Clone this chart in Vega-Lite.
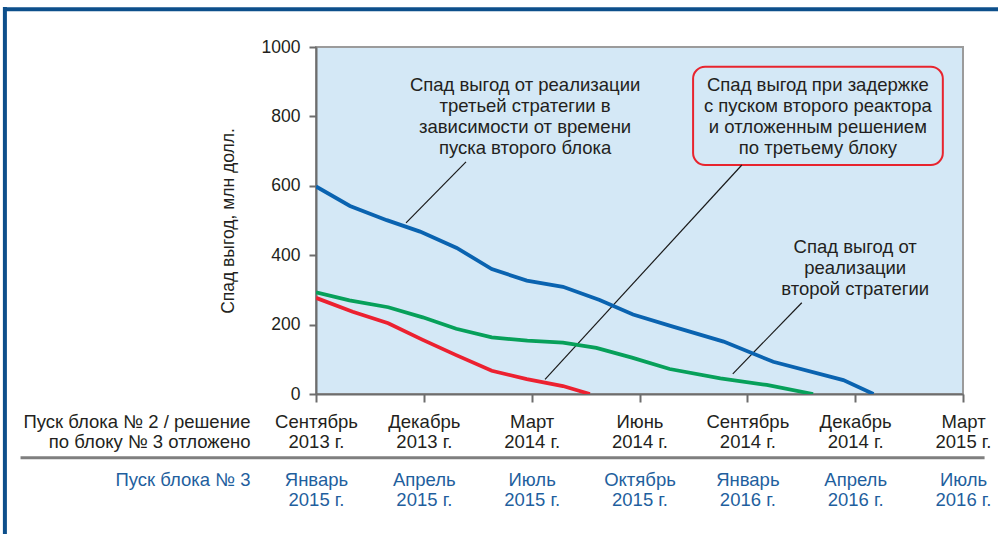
{
  "$schema": "https://vega.github.io/schema/vega-lite/v6.json",
  "autosize": {"type": "none"},
  "padding": {"left": 316, "top": 47, "right": 35, "bottom": 140},
  "width": 647,
  "height": 347,
  "background": "white",
  "config": {
    "view": {"fill": "#d4e8f6", "stroke": "#9b9b9b", "strokeWidth": 2},
    "font": "Liberation Sans",
    "axis": {"labelFont": "Liberation Sans", "titleFont": "Liberation Sans", "grid": false}
  },
  "datasets": {
    "one": [{"k": 1}],
    "lines": [
      {"series": "blue", "q": 0, "v": 598},
      {"series": "blue", "q": 0.315, "v": 542},
      {"series": "blue", "q": 0.656, "v": 501},
      {"series": "blue", "q": 0.965, "v": 468},
      {"series": "blue", "q": 1.305, "v": 421},
      {"series": "blue", "q": 1.63, "v": 360},
      {"series": "blue", "q": 1.955, "v": 327},
      {"series": "blue", "q": 2.29, "v": 309},
      {"series": "blue", "q": 2.63, "v": 271},
      {"series": "blue", "q": 2.94, "v": 229},
      {"series": "blue", "q": 3.31, "v": 194},
      {"series": "blue", "q": 3.78, "v": 151},
      {"series": "blue", "q": 4.24, "v": 93},
      {"series": "blue", "q": 4.89, "v": 40},
      {"series": "blue", "q": 5.17, "v": 0},
      {"series": "green", "q": 0, "v": 293},
      {"series": "green", "q": 0.31, "v": 270},
      {"series": "green", "q": 0.67, "v": 250},
      {"series": "green", "q": 0.99, "v": 221},
      {"series": "green", "q": 1.3, "v": 188},
      {"series": "green", "q": 1.63, "v": 163},
      {"series": "green", "q": 1.96, "v": 154},
      {"series": "green", "q": 2.29, "v": 148},
      {"series": "green", "q": 2.6, "v": 133},
      {"series": "green", "q": 2.93, "v": 105},
      {"series": "green", "q": 3.28, "v": 72},
      {"series": "green", "q": 3.75, "v": 45},
      {"series": "green", "q": 4.18, "v": 26},
      {"series": "green", "q": 4.61, "v": 0},
      {"series": "red", "q": 0, "v": 277},
      {"series": "red", "q": 0.34, "v": 237},
      {"series": "red", "q": 0.67, "v": 204},
      {"series": "red", "q": 0.99, "v": 156},
      {"series": "red", "q": 1.3, "v": 112},
      {"series": "red", "q": 1.63, "v": 67},
      {"series": "red", "q": 1.955, "v": 43},
      {"series": "red", "q": 2.29, "v": 23},
      {"series": "red", "q": 2.54, "v": 0}
    ],
    "leaders": [
      {"id": "a", "x1": 1.391, "y1": 669, "x2": 0.835, "y2": 493},
      {"id": "b", "x1": 3.949, "y1": 660, "x2": 2.124, "y2": 42},
      {"id": "c", "x1": 4.505, "y1": 263, "x2": 3.865, "y2": 58}
    ]
  },
  "resolve": {"scale": {"x": "independent"}, "axis": {"x": "independent"}},
  "layer": [
    {
      "layer": [
        {
          "data": {"name": "one"},
          "mark": {"type": "rule", "color": "#0d4f8b", "strokeWidth": 4, "clip": false},
          "encoding": {
            "x": {"datum": -2.9, "type": "quantitative"},
            "x2": {"datum": 6.33},
            "y": {"datum": 1109, "type": "quantitative"}
          }
        },
        {
          "data": {"name": "one"},
          "mark": {"type": "rule", "color": "#0d4f8b", "strokeWidth": 4, "clip": false},
          "encoding": {
            "x": {"datum": -2.885, "type": "quantitative"},
            "y": {"datum": 1115, "type": "quantitative"},
            "y2": {"datum": -410}
          }
        },
        {
          "data": {"name": "one"},
          "mark": {"type": "rect", "cornerRadius": 12, "fill": "#d4e8f6", "stroke": "#e8242e", "strokeWidth": 2},
          "encoding": {
            "x": {"datum": 3.497, "type": "quantitative"},
            "x2": {"datum": 5.813},
            "y": {"datum": 943, "type": "quantitative"},
            "y2": {"datum": 660}
          }
        },
        {
          "data": {"name": "leaders"},
          "mark": {"type": "rule", "color": "#1a1a1a", "strokeWidth": 1.2},
          "encoding": {
            "x": {"field": "x1", "type": "quantitative"},
            "x2": {"field": "x2"},
            "y": {"field": "y1", "type": "quantitative"},
            "y2": {"field": "y2"}
          }
        },
        {
          "data": {"name": "lines"},
          "mark": {"type": "line", "strokeWidth": 3.8, "clip": true},
          "encoding": {
            "x": {
              "field": "q",
              "type": "quantitative",
              "scale": {"domain": [0, 6], "nice": false, "zero": false},
              "axis": {
                "values": [0, 1, 2, 3, 4, 5, 6],
                "labelExpr": "[['Сентябрь','2013 г.'],['Декабрь','2013 г.'],['Март','2014 г.'],['Июнь','2014 г.'],['Сентябрь','2014 г.'],['Декабрь','2014 г.'],['Март','2015 г.']][datum.value]",
                "labelFontSize": 18.5,
                "labelColor": "#231f20",
                "labelLineHeight": 20,
                "labelPadding": 10,
                "labelBaseline": "top",
                "labelOverlap": false,
                "labelBound": false,
                "labelFlush": false,
                "tickSize": 8,
                "tickWidth": 2,
                "tickColor": "#6d6d6d",
                "domainColor": "#6d6d6d",
                "domainWidth": 2,
                "title": ["Пуск блока № 2 / решение", "по блоку № 3 отложено"],
                "titleFontSize": 18.5,
                "titleFontWeight": "normal",
                "titleColor": "#231f20",
                "titleLineHeight": 20,
                "titleAlign": "right",
                "titleAnchor": "start",
                "titleBaseline": "top",
                "titleX": -66,
                "titleY": 18
              }
            },
            "y": {
              "field": "v",
              "type": "quantitative",
              "scale": {"domain": [0, 1000], "nice": false},
              "axis": {
                "values": [0, 100, 200, 300, 400, 500, 600, 700, 800, 900, 1000],
                "labelExpr": "datum.value % 200 == 0 ? datum.label : ''",
                "format": "d",
                "labelFontSize": 17.5,
                "labelColor": "#231f20",
                "labelPadding": 9,
                "tickSize": 7,
                "tickWidth": 2,
                "tickColor": "#6d6d6d",
                "domainColor": "#6d6d6d",
                "domainWidth": 2,
                "title": "Спад выгод, млн долл.",
                "titleFontSize": 17.5,
                "titleFontWeight": "normal",
                "titleColor": "#231f20",
                "titleAngle": -90,
                "titleAlign": "center",
                "titleBaseline": "middle",
                "titleX": -88,
                "titleY": 173.5
              }
            },
            "color": {
              "field": "series",
              "type": "nominal",
              "scale": {"domain": ["blue", "green", "red"], "range": ["#0a63b0", "#07a05a", "#ec2130"]},
              "legend": null
            },
            "detail": {"field": "series"}
          }
        },
        {
          "data": {"name": "one"},
          "mark": {"type": "text", "text": ["Спад выгод от реализации", "третьей стратегии в", "зависимости от времени", "пуска второго блока"], "fontSize": 18.5, "lineHeight": 20.8, "align": "center", "baseline": "middle", "color": "#231f20"},
          "encoding": {
            "x": {"datum": 1.939, "type": "quantitative"},
            "y": {"datum": 890, "type": "quantitative"}
          }
        },
        {
          "data": {"name": "one"},
          "mark": {"type": "text", "text": ["Спад выгод при задержке", "с пуском второго реактора", "и отложенным решением", "по третьему блоку"], "fontSize": 18.5, "lineHeight": 20.8, "align": "center", "baseline": "middle", "color": "#231f20"},
          "encoding": {
            "x": {"datum": 4.654, "type": "quantitative"},
            "y": {"datum": 890, "type": "quantitative"}
          }
        },
        {
          "data": {"name": "one"},
          "mark": {"type": "text", "text": ["Спад выгод от", "реализации", "второй стратегии"], "fontSize": 18.5, "lineHeight": 20.8, "align": "center", "baseline": "middle", "color": "#231f20"},
          "encoding": {
            "x": {"datum": 5.0, "type": "quantitative"},
            "y": {"datum": 423, "type": "quantitative"}
          }
        }
      ]
    },
    {
      "data": {"name": "one"},
      "mark": {"type": "rule", "color": "#7f7f7f", "strokeWidth": 3, "clip": false},
      "encoding": {
        "x": {
          "datum": -2.74,
          "type": "quantitative",
          "scale": {"domain": [0, 6], "nice": false, "zero": false},
          "axis": {
            "orient": "bottom",
            "offset": 0,
            "values": [0, 1, 2, 3, 4, 5, 6],
            "labelExpr": "[['Январь','2015 г.'],['Апрель','2015 г.'],['Июль','2015 г.'],['Октябрь','2015 г.'],['Январь','2016 г.'],['Апрель','2016 г.'],['Июль','2016 г.']][datum.value]",
            "labelFontSize": 18.5,
            "labelColor": "#1f5f9e",
            "labelLineHeight": 20,
            "labelPadding": 76,
            "labelBaseline": "top",
            "labelOverlap": false,
            "labelBound": false,
            "labelFlush": false,
            "ticks": false,
            "tickSize": 0,
            "domain": false,
            "title": "Пуск блока № 3",
            "titleFontSize": 18.5,
            "titleFontWeight": "normal",
            "titleColor": "#1f5f9e",
            "titleAlign": "right",
            "titleAnchor": "start",
            "titleBaseline": "top",
            "titleX": -66,
            "titleY": 76
          }
        },
        "x2": {"datum": 6.2},
        "y": {"datum": -184, "type": "quantitative"}
      }
    }
  ]
}
